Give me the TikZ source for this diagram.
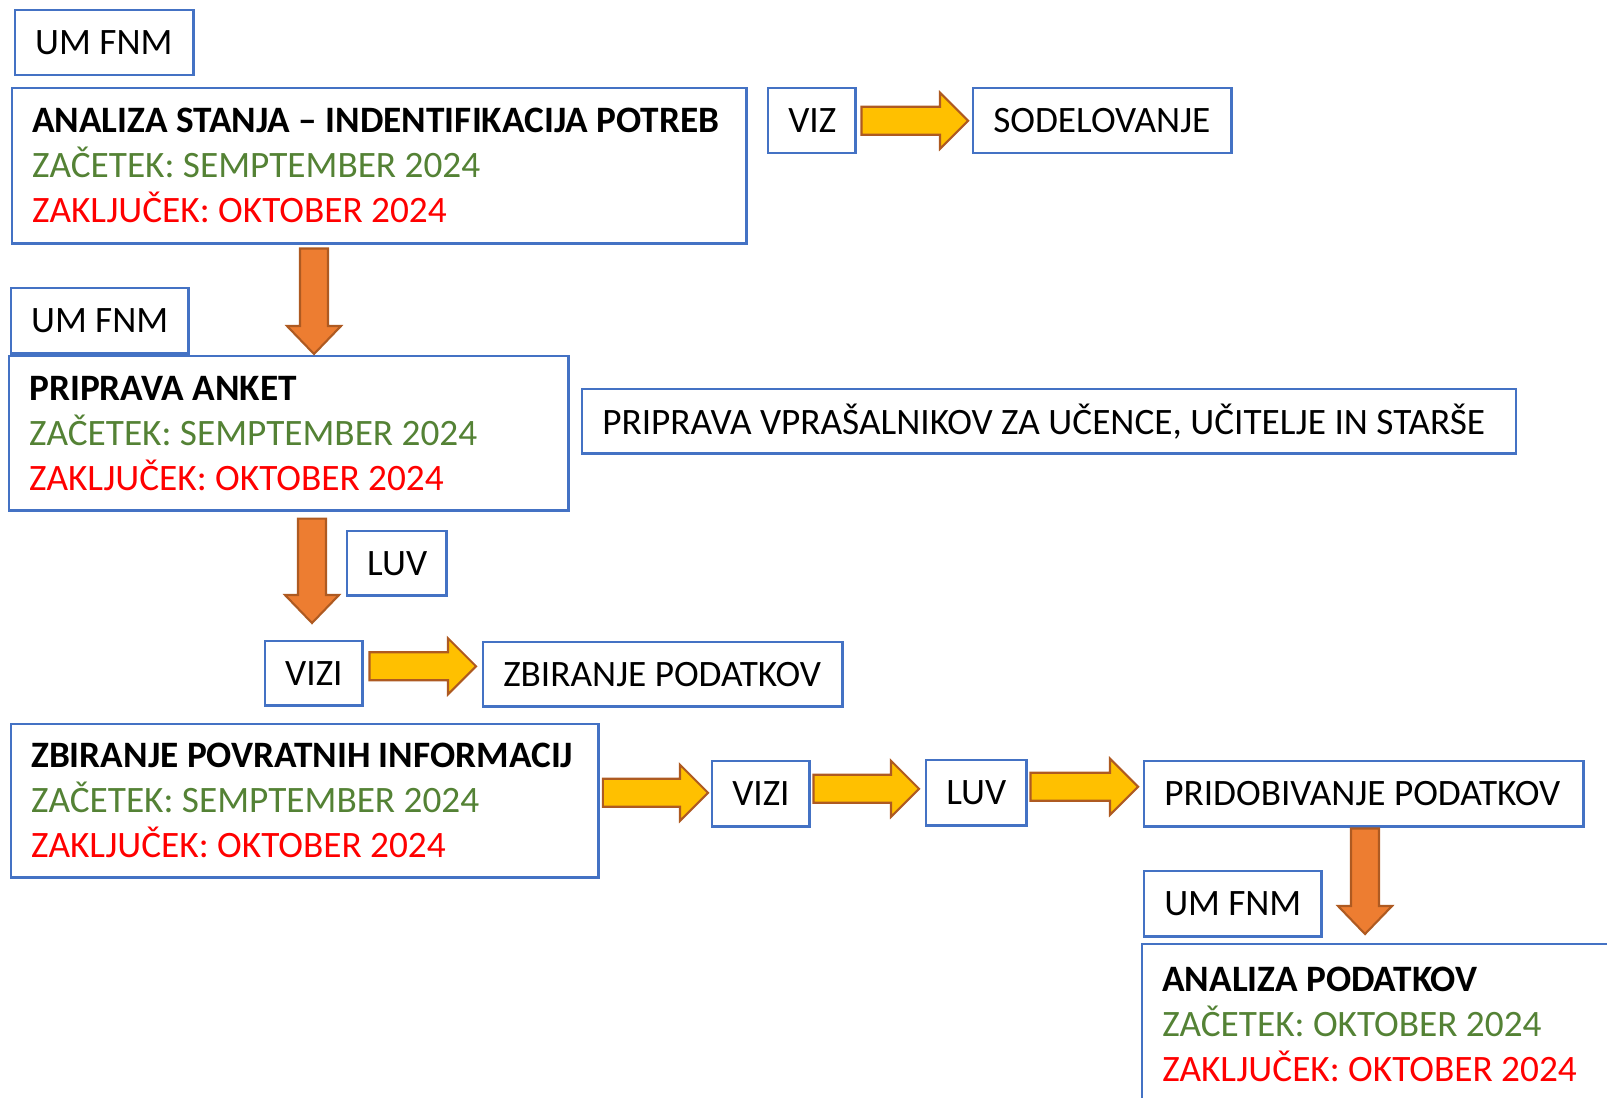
\documentclass[tikz,border=0pt]{standalone}
\usepackage{fontspec}
\setmainfont{Carlito}
\usetikzlibrary{calc}
\frenchspacing

\definecolor{boxblue}{HTML}{4472C4}
\definecolor{startgreen}{HTML}{548235}
\definecolor{endred}{HTML}{FF0000}
\definecolor{arrowyellow}{HTML}{FFC000}
\definecolor{arroworange}{HTML}{ED7D31}
\definecolor{arrowline}{HTML}{AE5A21}

\tikzset{
    box/.style={draw=boxblue, line width=0.7pt, anchor=north west, inner ysep=0pt,
        inner xsep=0.2cm, align=flush left, minimum height=0.65cm,
        font=\fontsize{10.6}{12.8}\selectfont},
    yblock/.style={fill=arrowyellow, draw=arrowline, line width=0.6pt, line join=miter},
    oblock/.style={fill=arroworange, draw=arrowline, line width=0.6pt, line join=miter}
}

% block arrows: #2 = tail point, #3 = tip point
\newcommand{\hblock}[3][yblock]{%
    \draw[#1] ($(#2)+(0,-14)$) -- ($(#3)+(-28,-14)$) -- ($(#3)+(-28,-28)$) -- (#3)
        -- ($(#3)+(-28,28)$) -- ($(#3)+(-28,14)$) -- ($(#2)+(0,14)$) -- cycle;}
\newcommand{\vblock}[3][oblock]{%
    \draw[#1] ($(#2)+(-14,0)$) -- ($(#3)+(-14,-28)$) -- ($(#3)+(-27,-28)$) -- (#3)
        -- ($(#3)+(27,-28)$) -- ($(#3)+(14,-28)$) -- ($(#2)+(14,0)$) -- cycle;}

\newcommand{\zac}[1]{\textcolor{startgreen}{ZAČETEK: #1}}
\newcommand{\zak}[1]{\textcolor{endred}{ZAKLJUČEK: #1}}

\begin{document}
\begin{tikzpicture}[x=0.01cm, y=-0.01cm]
    \useasboundingbox (0,0) rectangle (1607,1097);

    \node [box, text width=1.38cm] (um1) at (14,9) {UM FNM};
    \node [box, text width=6.94cm, minimum height=1.55cm] (stanje) at (11,87)
        {\textbf{ANALIZA STANJA – INDENTIFIKACIJA POTREB}\\\zac{SEMPTEMBER 2024}\\\zak{OKTOBER 2024}};

    \node [box, text width=0.47cm] (viz) at (767,87) {VIZ};
    \node [box, text width=2.18cm] (sodel) at (972,87) {SODELOVANJE};
    \coordinate (a1s) at ($(viz.east)+(5,0)$);
    \coordinate (a1e) at ($(sodel.west)+(-4,0)$);
    \hblock{a1s}{a1e}

    \node [box, text width=1.37cm] (um2) at (10,287) {UM FNM};
    \node [box, text width=5.19cm, minimum height=1.54cm] (anket) at (8,355)
        {\textbf{PRIPRAVA ANKET}\\\zac{SEMPTEMBER 2024}\\\zak{OKTOBER 2024}};
    \coordinate (o1s) at ($(stanje.south west)+(303,4)$);
    \coordinate (o1e) at ($(anket.north west)+(306,-1)$);
    \vblock{o1s}{o1e}

    \node [box, text width=8.93cm, minimum height=0.64cm] (vpras) at (581,388)
        {PRIPRAVA VPRAŠALNIKOV ZA UČENCE, UČITELJE IN STARŠE};

    \node [box, text width=0.59cm, minimum height=0.64cm] (luv1) at (346,530) {LUV};
    \node [box, text width=0.57cm, minimum height=0.64cm] (vizi1) at (264,640) {VIZI};
    \coordinate (o2s) at ($(anket.south west)+(304,7)$);
    \coordinate (o2e) at ($(vizi1.north west)+(48,-17)$);
    \vblock{o2s}{o2e}

    \node [box, text width=3.19cm, minimum height=0.64cm] (zbir) at (482,641) {ZBIRANJE PODATKOV};
    \coordinate (a2s) at ($(vizi1.east)+(6,-7)$);
    \coordinate (a2e) at ($(zbir.west)+(-6,-8)$);
    \hblock{a2s}{a2e}

    \node [box, text width=5.47cm, minimum height=1.53cm] (povrat) at (10,723)
        {\textbf{ZBIRANJE POVRATNIH INFORMACIJ}\\\zac{SEMPTEMBER 2024}\\\zak{OKTOBER 2024}};

    \node [box, text width=0.57cm] (vizi2) at (711,760) {VIZI};
    \node [box, text width=0.60cm] (luv2) at (925,759) {LUV};
    \node [box, text width=3.99cm] (pridob) at (1143,760) {PRIDOBIVANJE PODATKOV};
    \coordinate (a3s) at ($(povrat.east)+(3,-8)$);
    \coordinate (a3e) at ($(vizi2.west)+(-3,-1)$);
    \hblock{a3s}{a3e}
    \coordinate (a4s) at ($(vizi2.east)+(3,-5)$);
    \coordinate (a4e) at ($(luv2.west)+(-6,-4)$);
    \hblock{a4s}{a4e}
    \coordinate (a5s) at ($(luv2.east)+(3,-6)$);
    \coordinate (a5e) at ($(pridob.west)+(-5,-7)$);
    \hblock{a5s}{a5e}

    \node [box, text width=1.37cm] (um3) at (1143,870) {UM FNM};
    \node [box, text width=4.41cm, minimum height=1.60cm] (analiza) at (1141,943)
        {\textbf{ANALIZA PODATKOV}\\\zac{OKTOBER 2024}\\\zak{OKTOBER 2024}};
    \coordinate (o3s) at ($(pridob.south west)+(222,1)$);
    \coordinate (o3e) at ($(analiza.north west)+(224,-9)$);
    \vblock{o3s}{o3e}
\end{tikzpicture}
\end{document}
